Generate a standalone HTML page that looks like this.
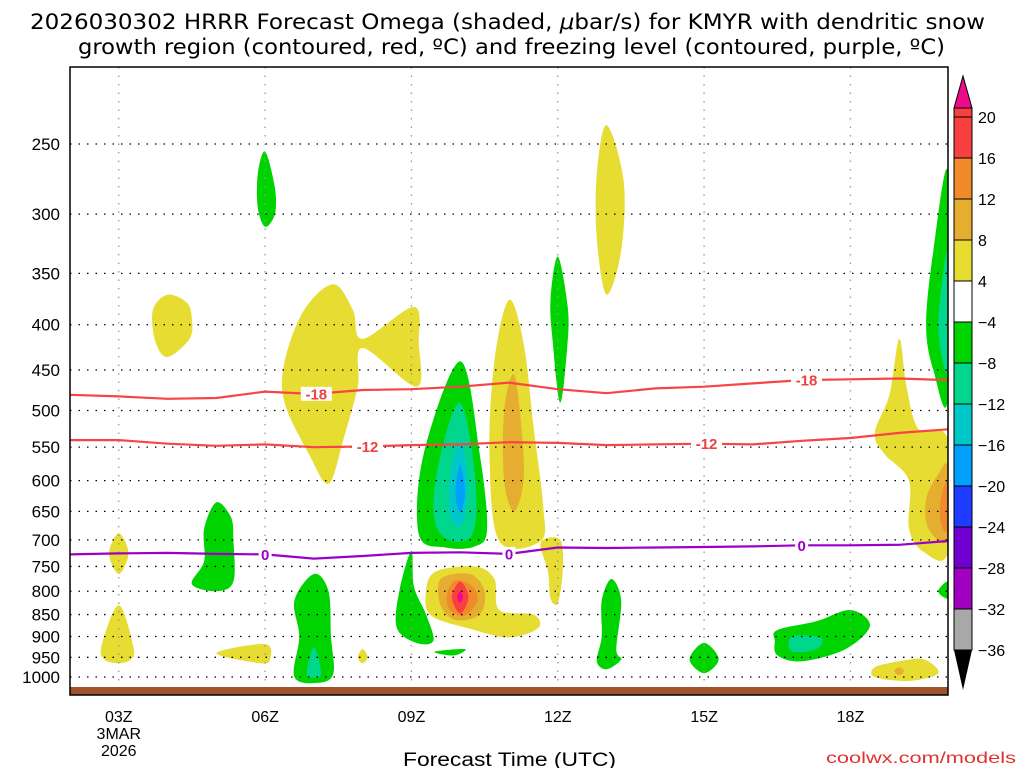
<!DOCTYPE html>
<html><head><meta charset="utf-8">
<style>
html,body{margin:0;padding:0;background:#fff;width:1024px;height:768px;overflow:hidden}
svg{display:block;font-family:"Liberation Sans",sans-serif}
</style></head>
<body>
<svg id="chart" width="1024" height="768" viewBox="0 0 1024 768">
<text x="30" y="29" font-size="21" textLength="955" lengthAdjust="spacingAndGlyphs" style="font-family:'DejaVu Sans',sans-serif" fill="#000">2026030302 HRRR Forecast Omega (shaded, <tspan font-style="italic">μ</tspan>bar/s) for KMYR with dendritic snow</text>
<text x="78" y="54" font-size="21" textLength="867" lengthAdjust="spacingAndGlyphs" style="font-family:'DejaVu Sans',sans-serif" fill="#000">growth region (contoured, red, ºC) and freezing level (contoured, purple, ºC)</text>
<g id="plot"></g>
<g id="axes"></g>
<g id="cbar"></g>
<text x="403" y="766" font-size="19" textLength="213" lengthAdjust="spacingAndGlyphs" fill="#000">Forecast Time (UTC)</text>
<text x="826" y="763" font-size="16" textLength="190" lengthAdjust="spacingAndGlyphs" fill="#e03030">coolwx.com/models</text>
</svg>
<script>
// ---- data ----
const pressureTicks = [250,300,350,400,450,500,550,600,650,700,750,800,850,900,950,1000];
const hourTicks = [3,6,9,12,15,18];
const hourTickLabels = ["03Z","06Z","09Z","12Z","15Z","18Z"];
const cbarLevels = [20,16,12,8,4,-4,-8,-12,-16,-20,-24,-28,-32,-36];
const cbarColors = ["#f84040","#f08a2a","#e6ae30","#e6dc32","#ffffff","#00d400","#00d68c","#00c8c8","#00a0ff","#1e3cff","#7000d0","#a000c0","#a8a8a8"];
const lineHours = [2,3,4,5,6,7,8,9,10,11,12,13,14,15,16,17,18,19,20];
const iso18 = [480,482,485,484,476,479,474,473,470,465,473,478,472,470,466,462,461,460,462];
const iso12 = [540,540,545,548,546,550,549,547,546,543,544,547,546,545,546,541,537,530,525];
const iso0  = [727,725,724,726,727,735,730,724,723,726,714,715,714,713,712,710,710,709,702];
// shaded blobs: [hour, hPa] vertices, with omega class colour
const blobs = [
 {c:"#e6dc32", pts:[[2.8,725],[3,688],[3.2,725],[3,765]]},
 {c:"#e6dc32", pts:[[3,830],[3.3,925],[3.25,955],[3,965],[2.7,955],[2.65,920]]},
 {c:"#e6dc32", pts:[[3.7,385],[4.0,370],[4.4,378],[4.5,395],[4.45,415],[4.0,435],[3.75,418]]},
 {c:"#00d400", pts:[[5.0,635],[5.3,660],[5.35,700],[5.35,780],[5.0,800],[4.5,785],[4.75,740],[4.75,680]]},
 {c:"#00d400", pts:[[6.0,255],[6.2,280],[6.2,300],[6.0,310],[5.85,295],[5.85,270]]},
 {c:"#e6dc32", pts:[[5.0,940],[6.0,918],[6.1,955],[5.9,965]]},
 {c:"#e6dc32", pts:[[7.4,360],[7.8,385],[8.0,415],[9.05,382],[9.15,420],[9.1,470],[8.0,425],[7.9,470],[7.6,540],[7.3,605],[6.9,560],[6.4,490],[6.4,440],[6.8,385]]},
 {c:"#e6dc32", pts:[[8.0,930],[8.1,950],[8.0,965],[7.9,950]]},
 {c:"#00d400", pts:[[7.0,765],[7.3,800],[7.35,900],[7.4,990],[7.1,1015],[6.6,1000],[6.7,900],[6.6,820]]},
 {c:"#00d68c", pts:[[7.0,925],[7.15,990],[7.0,1002],[6.85,990]]},
 {c:"#00d400", pts:[[9.0,720],[9.05,790],[9.3,850],[9.45,910],[9.1,915],[8.7,880],[8.75,800]]},
 {c:"#00d400", pts:[[9.5,935],[10.1,930],[9.9,945],[9.6,942]]},
 {c:"#00d400", pts:[[10.0,440],[10.4,560],[10.55,680],[10.3,712],[9.7,714],[9.15,690],[9.25,560]]},
 {c:"#00d68c", pts:[[10.0,490],[10.3,590],[10.25,690],[9.7,697],[9.45,650],[9.6,560]]},
 {c:"#00c8c8", pts:[[10.0,540],[10.15,600],[10.05,670],[9.8,660],[9.8,590]]},
 {c:"#00a0ff", pts:[[10.0,575],[10.1,620],[10.0,652],[9.9,620]]},
 {c:"#e6dc32", pts:[[11.0,375],[11.3,420],[11.5,520],[11.7,640],[11.65,702],[10.8,702],[10.6,560],[10.7,440]]},
 {c:"#e6ae30", pts:[[11.1,455],[11.25,520],[11.3,600],[11.1,650],[10.9,600],[10.9,500]]},
 {c:"#e6dc32", pts:[[9.5,760],[10.3,750],[10.7,775],[10.8,840],[11.5,850],[11.6,880],[11.0,902],[10.2,882],[9.4,852],[9.3,800]]},
 {c:"#e6ae30", pts:[[9.6,775],[10.2,765],[10.5,800],[10.4,850],[9.9,862],[9.6,830]]},
 {c:"#f08a2a", pts:[[9.9,778],[10.25,790],[10.35,820],[10.1,852],[9.8,842],[9.72,810]]},
 {c:"#f84040", pts:[[10.0,780],[10.17,812],[10.0,848],[9.83,812]]},
 {c:"#ee0a8a", pts:[[10.0,800],[10.06,812],[10.0,824],[9.94,812]]},
 {c:"#e6dc32", pts:[[11.65,705],[12.05,700],[12.1,760],[12.0,825],[11.85,815],[11.8,760]]},
 {c:"#00d400", pts:[[12.0,335],[12.2,380],[12.2,420],[12.05,490],[11.9,420],[11.85,375]]},
 {c:"#e6dc32", pts:[[13.0,238],[13.35,275],[13.3,330],[13.0,370],[12.8,320],[12.8,270]]},
 {c:"#00d400", pts:[[13.1,775],[13.3,820],[13.2,930],[13.3,955],[13.0,980],[12.8,960],[12.9,900],[12.9,820]]},
 {c:"#00d400", pts:[[15.0,915],[15.3,955],[15.0,990],[14.7,955]]},
 {c:"#00d400", pts:[[16.5,885],[17.3,865],[18.0,840],[18.4,875],[17.9,930],[17.0,960],[16.5,945],[16.45,910]]},
 {c:"#00d68c", pts:[[16.8,900],[17.4,903],[17.3,930],[16.8,935]]},
 {c:"#e6dc32", pts:[[19.0,960],[19.5,955],[19.8,990],[19.2,1010],[18.5,1000],[18.5,975]]},
 {c:"#e6ae30", pts:[[19.0,975],[19.1,985],[19.0,995],[18.9,985]]},
 {c:"#e6dc32", pts:[[19.0,415],[19.15,470],[19.4,525],[20.0,540],[20.0,722],[19.5,722],[19.2,680],[19.2,600],[18.7,560],[18.5,530],[18.8,480]]},
 {c:"#e6ae30", pts:[[20.0,580],[19.8,590],[19.55,630],[19.6,680],[20.0,700]]},
 {c:"#f08a2a", pts:[[20.0,600],[19.85,630],[19.85,670],[20.0,682]]},
 {c:"#00d400", pts:[[20.0,270],[19.7,330],[19.55,400],[19.7,450],[20.0,482]]},
 {c:"#00d68c", pts:[[20.0,330],[19.8,400],[20.0,452]]},
 {c:"#00d400", pts:[[20.0,780],[19.8,800],[20.0,815]]}
];
const contourLabels = [
 {series:"iso18", text:"-18", hour:7.05, pmap:iso18},
 {series:"iso18", text:"-18", hour:17.1, pmap:iso18},
 {series:"iso12", text:"-12", hour:8.1, pmap:iso12},
 {series:"iso12", text:"-12", hour:15.05, pmap:iso12},
 {series:"iso0", text:"0", hour:6.0, pmap:iso0},
 {series:"iso0", text:"0", hour:11.0, pmap:iso0},
 {series:"iso0", text:"0", hour:17.0, pmap:iso0}
];
// ---- scales ----
const X0=70, X1=948, Y0=67, Y1=695, H0=2, H1=20;
function xs(h){return X0+(h-H0)*(X1-X0)/(H1-H0);}
function ys(p){return 144+384.5*Math.log(p/250);}
const NS="http://www.w3.org/2000/svg";
function mk(tag,attrs,parent){const e=document.createElementNS(NS,tag);for(const k in attrs)e.setAttribute(k,attrs[k]);parent.appendChild(e);return e;}
function smoothClosed(pts){
 const n=pts.length;let d="M"+pts[0][0].toFixed(1)+","+pts[0][1].toFixed(1);
 for(let i=0;i<n;i++){const p0=pts[(i-1+n)%n],p1=pts[i],p2=pts[(i+1)%n],p3=pts[(i+2)%n];
  const c1=[p1[0]+(p2[0]-p0[0])/6,p1[1]+(p2[1]-p0[1])/6],c2=[p2[0]-(p3[0]-p1[0])/6,p2[1]-(p3[1]-p1[1])/6];
  d+="C"+c1[0].toFixed(1)+","+c1[1].toFixed(1)+" "+c2[0].toFixed(1)+","+c2[1].toFixed(1)+" "+p2[0].toFixed(1)+","+p2[1].toFixed(1);}
 return d+"Z";}
function interp(arr,h){const i=Math.min(lineHours.length-2,Math.max(0,Math.floor(h-lineHours[0])));const t=h-lineHours[i];return arr[i]+(arr[i+1]-arr[i])*t;}
const plot=document.getElementById('plot'), axes=document.getElementById('axes'), cb=document.getElementById('cbar');
const cp=mk('clipPath',{id:'clip'},plot);
mk('rect',{x:X0,y:Y0,width:X1-X0,height:Y1-Y0},cp);
const g=mk('g',{'clip-path':'url(#clip)'},plot);
// blobs
blobs.forEach((b)=>{
 const pts=b.pts.map(q=>[xs(q[0]),ys(q[1])]);
 const el=mk('path',{d:smoothClosed(pts),fill:b.c},g);
 
 
});
// grid
pressureTicks.forEach(p=>{
 const el=mk('line',{x1:X0,x2:X1,y1:ys(p),y2:ys(p),stroke:'#000','stroke-width':1.3,'stroke-dasharray':'1.5 7'},g);
 
 
});
hourTicks.forEach(h=>{
 const el=mk('line',{x1:xs(h),x2:xs(h),y1:Y0,y2:Y1,stroke:'#999','stroke-width':1.3,'stroke-dasharray':'1.5 7'},g);
 
 
});
// contour lines
[[iso18,'#f84444','isotherm-minus18'],[iso12,'#f84444','isotherm-minus12'],[iso0,'#9a00c8','freezing-level-0c']].forEach(s=>{
 const d=lineHours.map((h,i)=>(i?'L':'M')+xs(h).toFixed(1)+','+ys(s[0][i]).toFixed(1)).join('');
 const el=mk('path',{d:d,fill:'none',stroke:s[1],'stroke-width':2.2},g);
 
 
});
contourLabels.forEach(l=>{
 const x=xs(l.hour),y=ys(interp(l.pmap,l.hour));
 const col=l.series==='iso0'?'#9a00c8':'#f04040';
 const w=l.text.length*9+4;
 const r=mk('rect',{x:x-w/2,y:y-7,width:w,height:14,fill:'#fff'},g);
 
 
 const t=mk('text',{x:x,y:y+5.5,'font-size':15,'font-weight':'bold','text-anchor':'middle',fill:col},g);
 t.textContent=l.text;
 
 
});
// ground
const gr=mk('rect',{x:X0,y:687,width:X1-X0,height:8,fill:'#a0522d'},g);


// frame
const fr=mk('rect',{x:X0,y:Y0,width:X1-X0,height:Y1-Y0,fill:'none',stroke:'#000','stroke-width':1.5},axes);


pressureTicks.forEach(p=>{
 const t=mk('text',{x:60,y:ys(p)+6,'font-size':17,'text-anchor':'end',fill:'#000'},axes);
 t.textContent=String(p);
 
 
});
hourTicks.forEach((h,i)=>{
 const t=mk('text',{x:xs(h),y:722,'font-size':16,'text-anchor':'middle',fill:'#000'},axes);
 t.textContent=hourTickLabels[i];
 
 
});
['3MAR','2026'].forEach((s,i)=>{
 const t=mk('text',{x:xs(3),y:739+i*17,'font-size':16,'text-anchor':'middle',fill:'#000'},axes);
 t.textContent=s;
 
 
});
// colorbar
const CX=954,CW=18,CT=117,CB=650;
const step=(CB-CT)/(cbarLevels.length-1);
const tri1=mk('path',{d:`M${CX},${CT-9}L${CX+CW/2},${76}L${CX+CW},${CT-9}Z`,fill:'#ee0a8a',stroke:'#000','stroke-width':1},cb);


const tt=mk('rect',{x:CX,y:CT-9,width:CW,height:9,fill:cbarColors[0],stroke:'#000','stroke-width':1},cb);


cbarColors.forEach((c,i)=>{
 const r=mk('rect',{x:CX,y:CT+i*step,width:CW,height:step,fill:c,stroke:'#000','stroke-width':1},cb);
 
 
});
const tri2=mk('path',{d:`M${CX},${CB}L${CX+CW/2},${690}L${CX+CW},${CB}Z`,fill:'#000'},cb);


cbarLevels.forEach((v,i)=>{
 const t=mk('text',{x:978,y:CT+i*step+6,'font-size':16,fill:'#000'},cb);
 t.textContent=v<0?'\u2212'+Math.abs(v):String(v);
 
 
});
</script>
</body></html>
